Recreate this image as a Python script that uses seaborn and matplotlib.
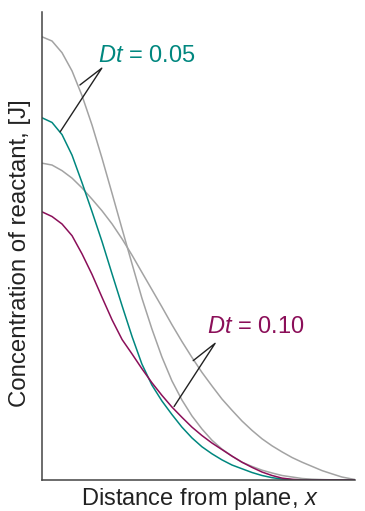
import numpy as np
import pandas as pd
import matplotlib
matplotlib.use('Agg')
import matplotlib.pyplot as plt
import seaborn as sns

# values (x: distance from plane, y: concentration, both 0..1)
dist = [0, .032, .064, .096, .128, .160, .192, .224, .256, .288, .319, .351, .383, .415,
        .447, .479, .511, .543, .575, .607, .639, .671, .703, .735, .767, .799, .831,
        .863, .895, .927, .958, 1.0]

# pure diffusion, Dt = 0.05 and Dt = 0.10 (gray)
diff_005 = [.947, .938, .913, .874, .821, .758, .687, .612, .536, .461, .389, .323, .263,
            .212, .171, .137, .109, .085, .066, .051, .038, .029, .021, .015, .0096, .0064,
            .0032, .0017, .0009, .0004, 0, 0]
diff_010 = [.677, .673, .661, .645, .624, .600, .575, .547, .515, .480, .444, .407, .370,
            .332, .296, .262, .230, .201, .173, .149, .126, .106, .088, .073, .060, .048,
            .038, .029, .020, .013, .0064, .001]

# with reaction
react_005 = [.774, .764, .738, .694, .635, .573, .509, .440, .372, .306, .248, .203, .169,
             .140, .113, .090, .071, .056, .043, .032, .024, .016, .0096, .005, .002, .0006,
             0, 0, 0, 0, 0, 0]
react_010 = [.573, .563, .547, .522, .483, .439, .390, .342, .300, .269, .238, .208, .181,
             .156, .134, .113, .095, .079, .065, .051, .038, .027, .017, .0096, .004, .0015,
             0, 0, 0, 0, 0, 0]

labels = ['0.05', '0.10']

TEAL = '#00877f'
PURPLE = '#8b0f59'
GRAY = '#a3a3a3'
LEADER = '#222222'

df = pd.concat([
    pd.DataFrame({'x': dist, 'y': diff_005, 'curve': 'diff_005'}),
    pd.DataFrame({'x': dist, 'y': diff_010, 'curve': 'diff_010'}),
    pd.DataFrame({'x': dist, 'y': react_005, 'curve': 'react_005'}),
    pd.DataFrame({'x': dist, 'y': react_010, 'curve': 'react_010'}),
])
palette = {'diff_005': GRAY, 'diff_010': GRAY, 'react_005': TEAL, 'react_010': PURPLE}

sns.set_theme(style='white')
plt.rcParams['font.family'] = ['Liberation Sans', 'DejaVu Sans']
plt.rcParams['mathtext.fontset'] = 'custom'
plt.rcParams['mathtext.rm'] = 'Liberation Sans'
plt.rcParams['mathtext.it'] = 'Liberation Sans:italic'

fig = plt.figure(figsize=(3.65, 5.11), dpi=100)
ax = fig.add_axes([42/365, 1 - 480/511, 313/365, 468/511])

sns.lineplot(data=df, x='x', y='y', hue='curve', palette=palette, lw=1.1,
             estimator=None, legend=False, ax=ax)

ax.set_xlim(0, 1)
ax.set_ylim(0, 1)
ax.set_xticks([])
ax.set_yticks([])
for s in ['top', 'right']:
    ax.spines[s].set_visible(False)
for s in ['left', 'bottom']:
    ax.spines[s].set_color('#444444')
    ax.spines[s].set_linewidth(1.1)

ax.set_xlabel('Distance from plane, $\\mathit{x}$', fontsize=17, color='#222222',
              va='baseline')
ax.xaxis.set_label_coords(0.505, -0.053)
ax.set_ylabel('Concentration of reactant, [J]', fontsize=17.3, color='#222222', va='center')
ax.yaxis.set_label_coords(-0.070, 0.484)

# annotations with leader lines
ax.text(0.179, 0.893, '$\\mathit{Dt}$ = ' + labels[0], color=TEAL, fontsize=17,
        ha='left', va='baseline')
ax.plot([0.121, 0.191, 0.058], [0.844, 0.880, 0.744], color=LEADER, lw=1.0)

ax.text(0.527, 0.314, '$\\mathit{Dt}$ = ' + labels[1], color=PURPLE, fontsize=17,
        ha='left', va='baseline')
ax.plot([0.483, 0.553, 0.422], [0.255, 0.292, 0.157], color=LEADER, lw=1.0)

fig.savefig('out.png', dpi=100)
